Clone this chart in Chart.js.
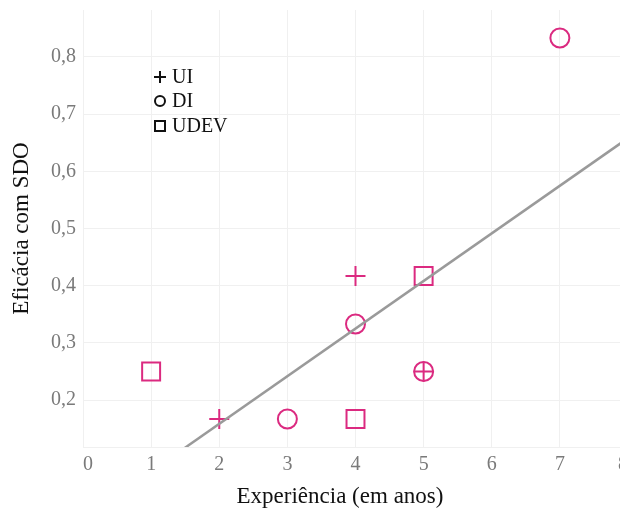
<!DOCTYPE html>
<html lang="pt">
<head>
<meta charset="UTF-8">
<title>Eficácia com SDO</title>
<script src="https://cdn.jsdelivr.net/npm/chart.js"></script>
<style>
  body { margin: 0; overflow: hidden; background: #fff; }
  #grafico { display: block; }
</style>
</head>
<body>
<canvas id="grafico" width="628" height="510"></canvas>
<script>
// dados
const nomes = ['UI', 'DI', 'UDEV'];
const uiX = [2, 4, 5];
const uiY = [0.167, 0.417, 0.25];
const diX = [3, 4, 5, 7];
const diY = [0.167, 0.333, 0.25, 0.833];
const udevX = [1, 4, 5];
const udevY = [0.25, 0.167, 0.417];
const tendX = [0, 8];
const tendY = [-0.008, 0.658];
const xTicks = [0, 1, 2, 3, 4, 5, 6, 7, 8];
const yTicks = [0.2, 0.3, 0.4, 0.5, 0.6, 0.7, 0.8];
const tituloX = 'Experiência (em anos)';
const tituloY = 'Eficácia com SDO';

const rosa = '#db2a80';
const fonte = "'Liberation Serif', 'DejaVu Serif', serif";

function pares(xs, ys) {
    return xs.map((x, i) => ({ x: x, y: ys[i] }));
}

// legenda dentro da área do gráfico (símbolos pretos) + título do eixo x
const extras = {
    id: 'extras',
    afterDraw(chart) {
        const ctx = chart.ctx;
        const x0 = chart.chartArea.left + 77;
        const ys = [77, 101, 126];
        ctx.save();
        ctx.strokeStyle = '#111';
        ctx.fillStyle = '#111';
        ctx.lineWidth = 2;
        ctx.font = "20px " + fonte;
        ctx.textBaseline = 'middle';
        nomes.forEach((nome, i) => {
            const y = ys[i];
            ctx.beginPath();
            if (i === 0) {
                ctx.moveTo(x0 - 6, y); ctx.lineTo(x0 + 6, y);
                ctx.moveTo(x0, y - 6); ctx.lineTo(x0, y + 6);
            } else if (i === 1) {
                ctx.arc(x0, y, 5, 0, Math.PI * 2);
            } else {
                ctx.rect(x0 - 5, y - 5, 10, 10);
            }
            ctx.stroke();
            ctx.fillText(nome, x0 + 12, y + 1);
        });
        ctx.font = "23px " + fonte;
        ctx.textAlign = 'center';
        ctx.fillText(tituloX, 340, 497);
        ctx.restore();
    }
};

const ctx = document.getElementById('grafico').getContext('2d');
const grafico = new Chart(ctx, {
    type: 'scatter',
    data: {
        datasets: [
            {
                type: 'line', label: 'tendência', data: pares(tendX, tendY),
                borderColor: '#9a9a9a', borderWidth: 2.5, pointRadius: 0, fill: false
            },
            {
                label: 'UI', data: pares(uiX, uiY), pointStyle: 'cross',
                pointRadius: 10, borderColor: rosa, borderWidth: 2, backgroundColor: 'transparent'
            },
            {
                label: 'DI', data: pares(diX, diY), pointStyle: 'circle',
                pointRadius: 9.5, borderColor: rosa, borderWidth: 2, backgroundColor: 'transparent'
            },
            {
                label: 'UDEV', data: pares(udevX, udevY), pointStyle: 'rect',
                pointRadius: 12.7, borderColor: rosa, borderWidth: 2, backgroundColor: 'transparent'
            }
        ]
    },
    options: {
        responsive: false,
        animation: false,
        layout: { autoPadding: false, padding: { top: 10, right: 0, left: 0, bottom: 0 } },
        plugins: { legend: { display: false }, tooltip: { enabled: false } },
        scales: {
            x: {
                type: 'linear', min: 0, max: 8,
                afterBuildTicks: s => { s.ticks = xTicks.map(v => ({ value: v })); },
                afterFit: s => { s.height = 63; s.paddingLeft = 0; s.paddingRight = 0; },
                grid: { color: '#f0f0f0', drawTicks: false },
                border: { display: true, color: '#f0f0f0' },
                ticks: { color: '#7a7a7a', padding: 6, align: 'inner', font: { family: fonte, size: 20 } },
                title: { display: false }
            },
            y: {
                type: 'linear', min: 0.118, max: 0.882,
                afterBuildTicks: s => { s.ticks = yTicks.map(v => ({ value: v })); },
                afterFit: s => { s.width = 83; s.paddingTop = 0; s.paddingBottom = 0; },
                grid: { color: '#f0f0f0', drawTicks: false },
                border: { display: false },
                ticks: {
                    color: '#7a7a7a', padding: 7, font: { family: fonte, size: 20 },
                    callback: v => v.toFixed(1).replace('.', ',')
                },
                title: { display: true, text: tituloY, color: '#111', padding: { top: 8, bottom: 0 },
                         font: { family: fonte, size: 23 } }
            }
        }
    },
    plugins: [extras]
});
</script>
</body>
</html>
